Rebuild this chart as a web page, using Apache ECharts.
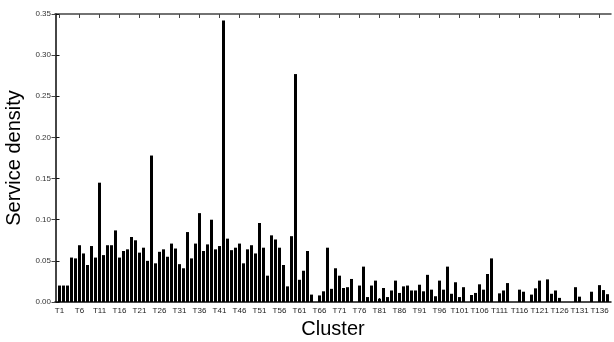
<!DOCTYPE html>
<html>
<head>
<meta charset="utf-8">
<script src="https://cdn.jsdelivr.net/npm/echarts@6/dist/echarts.min.js"></script>
<style>html,body{margin:0;padding:0;background:#fff}#c{width:614px;height:342px}</style>
</head>
<body>
<div id="c"></div>
<script>
const clusterNames = Array.from({length: 138}, (_, i) => 'T' + (i + 1));
const serviceDensity = [
  0.020, 0.020, 0.020, 0.054, 0.053, 0.069, 0.059, 0.045, 0.068, 0.054,
  0.145, 0.057, 0.069, 0.069, 0.087, 0.054, 0.062, 0.064, 0.079, 0.075,
  0.060, 0.066, 0.050, 0.178, 0.047, 0.061, 0.064, 0.055, 0.071, 0.065,
  0.046, 0.041, 0.085, 0.053, 0.071, 0.108, 0.062, 0.070, 0.100, 0.064,
  0.068, 0.342, 0.077, 0.063, 0.066, 0.071, 0.047, 0.064, 0.069, 0.059,
  0.096, 0.066, 0.032, 0.081, 0.076, 0.066, 0.045, 0.019, 0.080, 0.277,
  0.027, 0.038, 0.062, 0.009, 0, 0.008, 0.013, 0.066, 0.016, 0.041,
  0.032, 0.017, 0.018, 0.028, 0, 0.020, 0.043, 0.006, 0.020, 0.026,
  0.004, 0.017, 0.006, 0.014, 0.026, 0.011, 0.019, 0.020, 0.014, 0.014,
  0.021, 0.013, 0.033, 0.015, 0.007, 0.026, 0.015, 0.043, 0.010, 0.024,
  0.006, 0.018, 0, 0.0085, 0.011, 0.0215, 0.015, 0.034, 0.053, 0,
  0.0105, 0.014, 0.023, 0, 0, 0.015, 0.0125, 0, 0.009, 0.0166,
  0.026, 0, 0.0275, 0.010, 0.014, 0.005, 0, 0, 0, 0.018,
  0.0065, 0, 0, 0.0125, 0, 0.0205, 0.0145, 0.0095
];
const xTickLabels = ['T1','T6','T11','T16','T21','T26','T31','T36','T41','T46','T51','T56','T61','T66','T71','T76','T81','T86','T91','T96','T101','T106','T111','T116','T121','T126','T131','T136'];
const yTickLabels = ['0.00','0.05','0.10','0.15','0.20','0.25','0.30','0.35'];

const xIndexOf = name => clusterNames.indexOf(name) + 1;
const tickPos = xTickLabels.map(xIndexOf);
const seriesData = serviceDensity.map((v, i) => [i + 1, v]);

const axisColor = '#111';
const font = 'Liberation Sans, Arial, sans-serif';

const chart = echarts.init(document.getElementById('c'), null, {renderer: 'canvas'});
chart.setOption({
  animation: false,
  backgroundColor: '#fff',
  grid: {left: 55, right: 3, top: 14, bottom: 40, containLabel: false, outerBoundsMode: 'none'},
  xAxis: [
    {
      type: 'value', position: 'bottom', min: -0.125, max: 138.875,
      name: 'Cluster', nameLocation: 'middle', nameGap: 14,
      nameTextStyle: {fontSize: 20, color: '#000', fontFamily: font},
      axisLine: {show: true, onZero: false, lineStyle: {color: axisColor, width: 1.5}},
      axisTick: {show: true, inside: true, length: 4, customValues: tickPos, lineStyle: {color: axisColor}},
      axisLabel: {show: true, customValues: tickPos, formatter: v => clusterNames[v - 1], fontSize: 8, color: '#222', margin: 5, fontFamily: font},
      splitLine: {show: false}
    },
    {
      type: 'value', position: 'top', min: -0.125, max: 138.875,
      axisLine: {show: true, onZero: false, lineStyle: {color: '#444', width: 1.5}},
      axisTick: {show: true, inside: true, length: 4, customValues: tickPos, lineStyle: {color: '#444'}},
      axisLabel: {show: false},
      splitLine: {show: false}
    }
  ],
  yAxis: [
    {
      type: 'value', position: 'left', min: 0, max: 0.35, interval: 0.05,
      name: 'Service density', nameLocation: 'middle', nameGap: 24, nameRotate: 90,
      nameTextStyle: {fontSize: 20, color: '#000', fontFamily: font},
      axisLine: {show: true, lineStyle: {color: axisColor, width: 1.5}},
      axisTick: {show: true, inside: true, length: 4, lineStyle: {color: axisColor}},
      axisLabel: {fontSize: 8, color: '#333', margin: 4, fontFamily: font,
        formatter: v => yTickLabels[Math.round(v / 0.05)]},
      splitLine: {show: false}
    },
    {
      type: 'value', position: 'right', min: 0, max: 0.35, interval: 0.05,
      axisLine: {show: true, lineStyle: {color: '#444', width: 1.5}},
      axisTick: {show: true, inside: true, length: 4, lineStyle: {color: '#444'}},
      axisLabel: {show: false},
      splitLine: {show: false}
    }
  ],
  series: [{
    type: 'bar', xAxisIndex: 0, yAxisIndex: 0,
    data: seriesData, barWidth: 3,
    itemStyle: {color: '#000'}
  }]
});
</script>
</body>
</html>
